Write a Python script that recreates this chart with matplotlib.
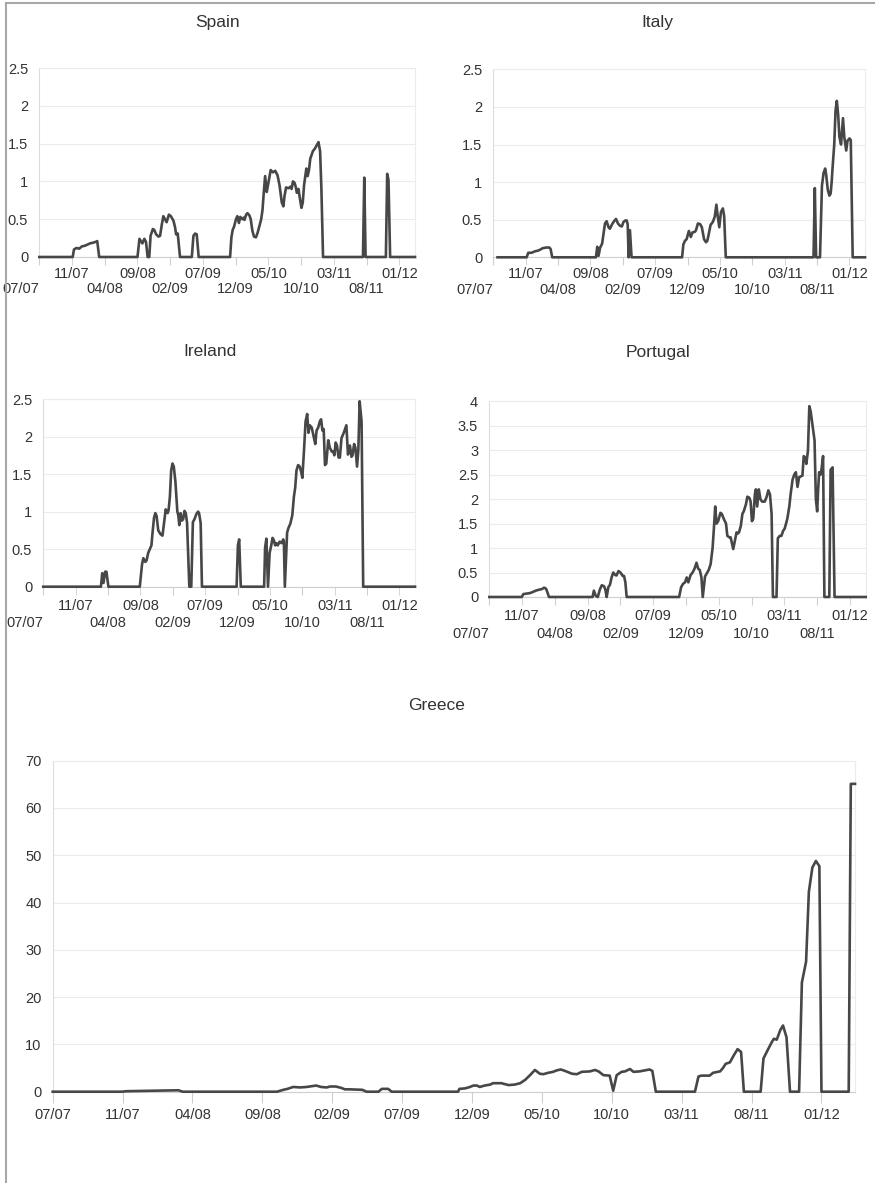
import matplotlib.pyplot as plt
from matplotlib.lines import Line2D
from matplotlib.ticker import FuncFormatter

plt.rcParams['font.family'] = ['Liberation Sans', 'DejaVu Sans']

# x axis: category ticks, positions given in tick intervals (0 = 07/07)
date_labels = ['07/07', '11/07', '04/08', '09/08', '02/09', '07/09',
               '12/09', '05/10', '10/10', '03/11', '08/11', '01/12']

spain = [(0, 0), (1.02, 0), (1.06, 0.10), (1.14, 0.12), (1.22, 0.11), (1.30, 0.14), (1.40, 0.15),
         (1.55, 0.18), (1.65, 0.19), (1.72, 0.20), (1.77, 0.21), (1.83, 0),
         (3.00, 0), (3.06, 0.24), (3.15, 0.18), (3.21, 0.24), (3.26, 0.20), (3.31, 0), (3.36, 0),
         (3.40, 0.28), (3.47, 0.37), (3.51, 0.36), (3.57, 0.30), (3.64, 0.27), (3.69, 0.28),
         (3.74, 0.42), (3.79, 0.54), (3.84, 0.50), (3.89, 0.46), (3.96, 0.56), (4.02, 0.54),
         (4.10, 0.48), (4.15, 0.39), (4.18, 0.30), (4.23, 0.31), (4.30, 0),
         (4.66, 0), (4.71, 0.28), (4.76, 0.31), (4.81, 0.30), (4.87, 0),
         (5.83, 0), (5.87, 0.26), (5.91, 0.36), (5.95, 0.40), (6.01, 0.50), (6.05, 0.54),
         (6.10, 0.45), (6.14, 0.53), (6.20, 0.50), (6.24, 0.52), (6.27, 0.49), (6.32, 0.56),
         (6.36, 0.58), (6.42, 0.55), (6.46, 0.50), (6.51, 0.35), (6.56, 0.27), (6.62, 0.26),
         (6.67, 0.32), (6.72, 0.40), (6.78, 0.50), (6.82, 0.62), (6.85, 0.80), (6.90, 1.07),
         (6.95, 0.86), (7.00, 0.98), (7.07, 1.15), (7.14, 1.12), (7.21, 1.14), (7.28, 1.08),
         (7.34, 0.95), (7.41, 0.72), (7.46, 0.67), (7.49, 0.80), (7.54, 0.92), (7.62, 0.91),
         (7.67, 0.93), (7.71, 0.90), (7.75, 1.00), (7.80, 0.98), (7.84, 0.92), (7.87, 0.85),
         (7.92, 0.90), (7.95, 0.81), (8.01, 0.65), (8.05, 0.72), (8.09, 0.95), (8.16, 1.17),
         (8.20, 1.07), (8.24, 1.15), (8.28, 1.30), (8.32, 1.35), (8.36, 1.40), (8.43, 1.44),
         (8.48, 1.48), (8.53, 1.52), (8.58, 1.40), (8.62, 0.90), (8.67, 0),
         (9.89, 0), (9.93, 1.05), (9.97, 0),
         (10.59, 0), (10.63, 1.10), (10.67, 1.02), (10.72, 0), (11.48, 0)]

italy = [(0.13, 0), (1.03, 0), (1.08, 0.06), (1.18, 0.06), (1.29, 0.08), (1.39, 0.09), (1.44, 0.10),
         (1.52, 0.12), (1.63, 0.13), (1.73, 0.13), (1.77, 0.11), (1.82, 0),
         (3.17, 0), (3.21, 0.14), (3.25, 0.02), (3.30, 0.13), (3.36, 0.18), (3.40, 0.30),
         (3.45, 0.45), (3.50, 0.48), (3.56, 0.40), (3.60, 0.38), (3.67, 0.44), (3.73, 0.48),
         (3.79, 0.51), (3.85, 0.45), (3.91, 0.42), (3.97, 0.41), (4.02, 0.47), (4.08, 0.49),
         (4.12, 0.49), (4.15, 0.44), (4.18, 0), (4.22, 0.36), (4.27, 0),
         (5.83, 0), (5.87, 0.17), (5.92, 0.22), (5.97, 0.24), (6.04, 0.35), (6.10, 0.27),
         (6.15, 0.33), (6.23, 0.34), (6.26, 0.36), (6.32, 0.45), (6.39, 0.44), (6.44, 0.40),
         (6.51, 0.24), (6.57, 0.20), (6.61, 0.22), (6.65, 0.30), (6.71, 0.43), (6.78, 0.47),
         (6.84, 0.54), (6.89, 0.70), (6.93, 0.55), (6.98, 0.40), (7.03, 0.60), (7.09, 0.65),
         (7.13, 0.55), (7.18, 0),
         (9.89, 0), (9.93, 0.92), (9.97, 0), (10.09, 0), (10.15, 0.95), (10.20, 1.12),
         (10.25, 1.18), (10.28, 1.10), (10.33, 0.90), (10.38, 0.82), (10.42, 0.85),
         (10.45, 1.00), (10.48, 1.20), (10.53, 1.50), (10.57, 1.95), (10.61, 2.08),
         (10.65, 1.90), (10.69, 1.60), (10.74, 1.50), (10.80, 1.85), (10.84, 1.60),
         (10.90, 1.42), (10.94, 1.55), (11.00, 1.58), (11.04, 1.56), (11.10, 0), (11.48, 0)]

ireland = [(0, 0), (1.78, 0), (1.82, 0.18), (1.86, 0.05), (1.91, 0.20), (1.95, 0.20), (2.01, 0),
           (2.98, 0), (3.05, 0.30), (3.09, 0.38), (3.15, 0.33), (3.19, 0.35), (3.24, 0.45),
           (3.29, 0.50), (3.34, 0.55), (3.37, 0.70), (3.42, 0.92), (3.46, 0.98), (3.50, 0.94),
           (3.55, 0.75), (3.62, 0.70), (3.68, 0.68), (3.73, 0.85), (3.78, 1.03), (3.84, 0.98),
           (3.87, 1.02), (3.91, 1.20), (3.95, 1.55), (3.99, 1.64), (4.03, 1.60), (4.08, 1.40),
           (4.14, 1.00), (4.17, 0.95), (4.20, 0.82), (4.24, 0.98), (4.28, 0.88), (4.32, 0.90),
           (4.36, 1.01), (4.40, 0.98), (4.44, 0.85), (4.51, 0), (4.57, 0), (4.62, 0.86),
           (4.67, 0.90), (4.73, 0.97), (4.78, 1.00), (4.81, 0.98), (4.86, 0.85), (4.90, 0),
           (5.97, 0), (6.01, 0.55), (6.05, 0.63), (6.10, 0),
           (6.82, 0), (6.85, 0.52), (6.89, 0.64), (6.94, 0), (6.99, 0.45), (7.04, 0.55),
           (7.08, 0.65), (7.12, 0.62), (7.16, 0.55), (7.20, 0.58), (7.24, 0.55), (7.30, 0.60),
           (7.36, 0.58), (7.41, 0.63), (7.43, 0.60), (7.46, 0), (7.53, 0.72), (7.57, 0.78),
           (7.63, 0.84), (7.69, 0.95), (7.74, 1.20), (7.78, 1.32), (7.82, 1.55), (7.87, 1.62),
           (7.92, 1.60), (7.97, 1.52), (8.00, 1.45), (8.05, 1.80), (8.10, 2.20), (8.15, 2.30),
           (8.19, 2.05), (8.23, 2.15), (8.29, 2.12), (8.35, 2.00), (8.40, 1.90), (8.44, 2.08),
           (8.49, 2.12), (8.54, 2.20), (8.58, 2.23), (8.62, 2.08), (8.66, 2.10), (8.70, 1.62),
           (8.74, 1.64), (8.80, 1.95), (8.85, 1.85), (8.91, 1.80), (8.95, 1.80), (8.99, 1.75),
           (9.03, 1.92), (9.07, 1.88), (9.12, 1.72), (9.16, 1.72), (9.21, 1.98), (9.28, 2.05),
           (9.36, 2.15), (9.41, 1.76), (9.47, 1.88), (9.52, 1.73), (9.55, 1.75), (9.60, 1.90),
           (9.64, 1.85), (9.69, 1.60), (9.73, 1.82), (9.77, 2.47), (9.83, 2.20), (9.88, 0),
           (11.48, 0)]

portugal = [(0, 0), (0.99, 0), (1.04, 0.06), (1.14, 0.07), (1.24, 0.08), (1.32, 0.10), (1.42, 0.13),
            (1.52, 0.15), (1.60, 0.16), (1.67, 0.19), (1.73, 0.17), (1.77, 0.10), (1.82, 0),
            (3.15, 0), (3.19, 0.13), (3.25, 0.02), (3.31, 0), (3.37, 0.15), (3.43, 0.24),
            (3.50, 0.22), (3.54, 0.15), (3.58, 0), (3.63, 0.20), (3.68, 0.25), (3.73, 0.40),
            (3.78, 0.50), (3.84, 0.45), (3.88, 0.44), (3.94, 0.53), (4.00, 0.50), (4.07, 0.43),
            (4.11, 0.43), (4.15, 0.30), (4.19, 0),
            (5.79, 0), (5.85, 0.20), (5.91, 0.27), (5.97, 0.30), (6.02, 0.40), (6.07, 0.30),
            (6.14, 0.45), (6.20, 0.50), (6.26, 0.58), (6.32, 0.70), (6.37, 0.58), (6.42, 0.55),
            (6.47, 0.40), (6.51, 0), (6.58, 0.42), (6.63, 0.48), (6.69, 0.55), (6.75, 0.67),
            (6.81, 1.00), (6.85, 1.40), (6.89, 1.85), (6.93, 1.50), (6.98, 1.55), (7.05, 1.72),
            (7.09, 1.70), (7.15, 1.60), (7.22, 1.50), (7.26, 1.25), (7.32, 1.22), (7.36, 1.22),
            (7.40, 1.10), (7.44, 0.98), (7.49, 1.15), (7.54, 1.32), (7.59, 1.30), (7.62, 1.33),
            (7.67, 1.45), (7.72, 1.70), (7.76, 1.75), (7.83, 1.90), (7.87, 2.05), (7.93, 2.03),
            (7.97, 1.95), (8.01, 1.55), (8.05, 1.60), (8.10, 2.10), (8.13, 2.20), (8.17, 1.85),
            (8.22, 2.20), (8.27, 2.00), (8.32, 1.95), (8.40, 1.95), (8.46, 2.05), (8.51, 2.18),
            (8.56, 2.10), (8.61, 1.70), (8.65, 0), (8.76, 0), (8.80, 1.20), (8.86, 1.25),
            (8.91, 1.25), (8.96, 1.35), (9.01, 1.40), (9.09, 1.60), (9.15, 1.85), (9.19, 2.10),
            (9.25, 2.40), (9.30, 2.50), (9.35, 2.55), (9.40, 2.25), (9.45, 2.45), (9.52, 2.47),
            (9.55, 2.48), (9.59, 2.88), (9.63, 2.85), (9.67, 2.72), (9.72, 3.00), (9.76, 3.90),
            (9.80, 3.80), (9.86, 3.50), (9.92, 3.20), (9.96, 2.00), (10.00, 1.75), (10.03, 2.20),
            (10.06, 2.55), (10.10, 2.50), (10.13, 2.60), (10.18, 2.88), (10.22, 0), (10.37, 0),
            (10.41, 2.60), (10.47, 2.65), (10.53, 0), (11.48, 0)]

greece = [(0, 0), (0.99, 0), (1.05, 0.1), (1.60, 0.25), (1.80, 0.3), (1.86, 0),
          (3.21, 0), (3.30, 0.4), (3.36, 0.6), (3.44, 1.0), (3.54, 0.9), (3.63, 1.0), (3.77, 1.3),
          (3.84, 1.0), (3.92, 0.9), (3.97, 1.1), (4.05, 1.1), (4.13, 0.8), (4.18, 0.5), (4.25, 0.5),
          (4.43, 0.4), (4.49, 0), (4.66, 0), (4.71, 0.6), (4.80, 0.6), (4.85, 0),
          (5.80, 0), (5.82, 0.6), (5.90, 0.7), (5.97, 1.0), (6.02, 1.3), (6.07, 1.3), (6.11, 1.0),
          (6.18, 1.3), (6.26, 1.5), (6.30, 1.8), (6.42, 1.8), (6.52, 1.4), (6.61, 1.5), (6.69, 1.8),
          (6.76, 2.5), (6.83, 3.5), (6.90, 4.6), (6.97, 3.8), (7.02, 3.7), (7.09, 4.0), (7.16, 4.2),
          (7.21, 4.5), (7.27, 4.7), (7.33, 4.4), (7.43, 3.8), (7.50, 3.7), (7.57, 4.2), (7.69, 4.3),
          (7.76, 4.6), (7.81, 4.3), (7.88, 3.5), (7.97, 3.4), (8.02, 0.2), (8.07, 3.5), (8.14, 4.2),
          (8.19, 4.3), (8.26, 4.8), (8.31, 4.2), (8.40, 4.3), (8.54, 4.7), (8.58, 4.4), (8.63, 0),
          (9.19, 0), (9.24, 3.2), (9.28, 3.4), (9.40, 3.4), (9.45, 4.0), (9.55, 4.3), (9.59, 5.0),
          (9.63, 5.9), (9.69, 6.2), (9.75, 7.8), (9.80, 9.0), (9.85, 8.4), (9.89, 0),
          (10.13, 0), (10.17, 7.0), (10.22, 8.5), (10.29, 10.5), (10.32, 11.2), (10.36, 11.0),
          (10.41, 13.0), (10.45, 14.0), (10.50, 11.5), (10.55, 0),
          (10.68, 0), (10.72, 23.1), (10.78, 27.5), (10.82, 42.3), (10.87, 47.4), (10.92, 48.8),
          (10.97, 47.7), (11.00, 0), (11.39, 0), (11.42, 65.1), (11.48, 65.1)]

W, H = 875, 1183
TXT = '#333333'
TICK = '#cfcfcf'
fig = plt.figure(figsize=(W / 100, H / 100), dpi=100)


def px(left, right, bottom, top):
    # pixel box -> figure fraction rect
    return [left / W, 1 - bottom / H, (right - left) / W, (bottom - top) / H]


def panel(rect, pts, ymax, ystep, title, title_xy, pads=None):
    ax = fig.add_axes(rect)
    t, v = zip(*pts)
    ax.plot(t, v, color='#474747', lw=1.9, solid_joinstyle='round', clip_on=False, zorder=3)
    ax.set_xlim(0, 11.48)
    ax.set_ylim(0, ymax)
    n = int(round(ymax / ystep))
    ax.set_yticks([i * ystep for i in range(n + 1)])
    ax.yaxis.set_major_formatter(FuncFormatter(lambda y, p: '%g' % y))
    if pads is None:
        # one row of labels
        ax.set_xticks(range(len(date_labels)))
        ax.set_xticklabels(date_labels)
        ax.tick_params(axis='x', which='major', length=8, color=TICK,
                       labelcolor=TXT, labelsize=10.5, pad=3.5)
    else:
        # staggered: even ticks on the lower row, odd ticks on the upper row
        ax.set_xticks(range(0, len(date_labels), 2))
        ax.set_xticklabels(date_labels[0::2])
        ax.set_xticks(range(1, len(date_labels), 2), minor=True)
        ax.set_xticklabels(date_labels[1::2], minor=True)
        ax.get_xticklabels()[0].set_ha('right')
        ax.tick_params(axis='x', which='major', length=6, color=TICK,
                       labelcolor=TXT, labelsize=10.5, pad=pads[1])
        ax.tick_params(axis='x', which='minor', length=6, color=TICK,
                       labelcolor=TXT, labelsize=10.5, pad=pads[0])
    ax.grid(axis='y', color='#ececec', lw=0.8)
    ax.set_axisbelow(True)
    for s in ['top', 'right']:
        ax.spines[s].set_color('#ececec')
        ax.spines[s].set_linewidth(0.8)
    ax.spines['left'].set_color('#dcdcdc')
    ax.spines['bottom'].set_color(TICK)
    ax.tick_params(axis='y', length=0, labelcolor=TXT, labelsize=10.5, pad=8)
    fig.text(title_xy[0] / W, 1 - title_xy[1] / H, title, ha='center', va='center',
             fontsize=12.5, color=TXT)
    return ax


panel(px(39.3, 415, 257, 68), spain, 2.5, 0.5, 'Spain', (218, 22), pads=(1.2, 12.2))
panel(px(493.3, 865, 257.3, 69.3), italy, 2.5, 0.5, 'Italy', (657, 22), pads=(1.2, 12.2))
panel(px(43.3, 415, 586.7, 399), ireland, 2.5, 0.5, 'Ireland', (210, 352), pads=(3, 15.3))
panel(px(489.3, 865.7, 597, 401.3), portugal, 4, 0.5, 'Portugal', (658, 353), pads=(3, 15.3))
panel(px(52.7, 855, 1091.7, 760.7), greece, 70, 10, 'Greece', (437, 705))

# frame lines of the original sheet
fig.add_artist(Line2D([6 / W, 6 / W], [0, 1 - 3 / H], transform=fig.transFigure,
                      color='#a8a8a8', lw=1.5))
fig.add_artist(Line2D([6 / W, 1], [1 - 3 / H, 1 - 3 / H], transform=fig.transFigure,
                      color='#a8a8a8', lw=1.5))

fig.savefig('out.png', dpi=100, facecolor='white')
